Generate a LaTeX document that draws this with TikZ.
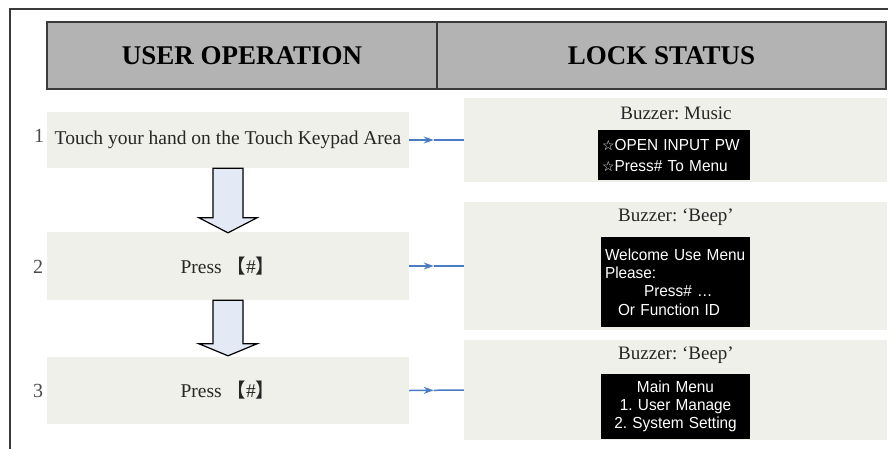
\documentclass[tikz,border=0pt]{standalone}
\usepackage{fontspec}
\setmainfont{Liberation Serif}
\newfontfamily\lcdfont[FakeStretch=0.96]{Liberation Sans}
\newfontfamily\cjkfont{Noto Sans CJK SC}
\newfontfamily\symfont{DejaVu Sans}
\usetikzlibrary{calc,arrows.meta}
\definecolor{hdrgray}{HTML}{B3B3B3}
\definecolor{boxbg}{HTML}{F0F0EA}
\definecolor{arrowblue}{HTML}{4A7CC4}
\definecolor{blockfill}{HTML}{E3EAF6}
\definecolor{framegray}{HTML}{3A3A3A}
\frenchspacing
\begin{document}
\begin{tikzpicture}[x=1pt,y=-1pt,
 header/.style={draw=framegray, line width=1.3pt, fill=hdrgray, font=\fontsize{27}{30}\selectfont\bfseries, inner sep=0pt, minimum height=67pt},
 stepbox/.style={fill=boxbg, inner sep=0pt, minimum width=362pt, text=black!85, font=\fontsize{19.5}{22}\selectfont},
 statbox/.style={fill=boxbg, inner sep=0pt, minimum width=423pt},
 buzz/.style={font=\fontsize{19}{22}\selectfont, text=black!85, inner sep=0pt},
 lcd/.style={fill=black, text=white, inner xsep=2pt, inner ysep=0pt},
 num/.style={font=\fontsize{20}{22}\selectfont, text=black!70, inner sep=0pt},
 link/.style={draw=arrowblue, line width=1.5pt},
 linkhead/.style={link, -{Stealth[length=10pt,width=7pt]}},
 blockarrow/.style={draw=black, line width=1.2pt, fill=blockfill, line join=miter}
]
\useasboundingbox (0,0) rectangle (888,448);
\fill[white] (0,0) rectangle (888,448);
\draw[framegray, line width=1.5pt] (889,9) -- (10,9) -- (10,449);

% headers
\node[header, minimum width=390pt] (h1) at (242,55.5) {USER OPERATION};
\node[header, minimum width=449pt] (h2) at (661.5,55.5) {LOCK STATUS};

% step boxes
\node[stepbox, minimum height=56pt] (s1) at (228,140) {Touch your hand on the Touch Keypad Area};
\node[stepbox, minimum height=68pt] (s2) at (228,266) {Press {\cjkfont 【}\#{\cjkfont 】}};
\node[stepbox, minimum height=67pt] (s3) at (228,390.5) {Press {\cjkfont 【}\#{\cjkfont 】}};

% step numbers
\path (s1.base) ++(-189,-2) node[num, anchor=base] (n1) {1};
\path (s2.base) ++(-190,0) node[num, anchor=base] (n2) {2};
\path (s3.base) ++(-190,0) node[num, anchor=base] (n3) {3};

% status boxes
\node[statbox, minimum height=84pt] (r1) at (675.5,140) {};
\node[statbox, minimum height=128pt] (r2) at (675.5,266) {};
\node[statbox, minimum height=100pt] (r3) at (675.5,390) {};

\node[buzz] (b1) at (676,113) {Buzzer: Music};
\node[buzz] (b2) at (676,217) {Buzzer: ‘Beep’};
\node[buzz] (b3) at (676,355) {Buzzer: ‘Beep’};

\node[lcd, text width=148pt, minimum height=50pt, align=left,
      font=\lcdfont\fontsize{16}{21}\selectfont] (l1) at (674,155)
  {\hspace*{2pt}{\symfont\fontsize{14}{21}\selectfont ☆}OPEN INPUT PW\\\hspace*{2pt}{\symfont\fontsize{14}{21}\selectfont ☆}Press\# To Menu};
\node[lcd, text width=145pt, minimum height=90pt, align=left,
      font=\lcdfont\fontsize{16}{18.3}\selectfont] (l2) at (675.5,282)
  {\hspace*{2pt}Welcome Use Menu\\\hspace*{2pt}Please:\\\hspace*{41pt}Press\# …\\\hspace*{15pt}Or Function ID};
\node[lcd, text width=145pt, minimum height=65pt, align=center,
      font=\lcdfont\fontsize{16}{18}\selectfont] (l3) at (675.5,406.5)
  {Main Menu\\1. User Manage\\2. System Setting};

% blue connectors (arrowhead partway along)
\coordinate (m1) at ($(s1.east)!0.45!(r1.west)$);
\coordinate (m2) at ($(s2.east)!0.45!(r2.west)$);
\coordinate (m3) at ($(s3.east)!0.45!(r3.west)$);
\draw[linkhead] (s1.east) -- (m1);
\draw[link] (m1) -- (r1.west);
\draw[linkhead] (s2.east) -- (m2);
\draw[link] (m2) -- (r2.west);
\draw[linkhead] (s3.east) -- (m3);
\draw[link] (m3) -- (r3.west);

% block arrows
\draw[blockarrow] ($(s1.south)+(-15,0)$) -- ($(s1.south)+(15,0)$) -- ($(s2.north)+(15,-14)$)
  -- ($(s2.north)+(29,-14)$) -- ($(s2.north)+(0,1)$) -- ($(s2.north)+(-29,-14)$)
  -- ($(s2.north)+(-15,-14)$) -- cycle;
\draw[blockarrow] ($(s2.south)+(-15,0)$) -- ($(s2.south)+(15,0)$) -- ($(s3.north)+(15,-13)$)
  -- ($(s3.north)+(29,-13)$) -- ($(s3.north)+(0,-1)$) -- ($(s3.north)+(-29,-13)$)
  -- ($(s3.north)+(-15,-13)$) -- cycle;
\end{tikzpicture}
\end{document}
